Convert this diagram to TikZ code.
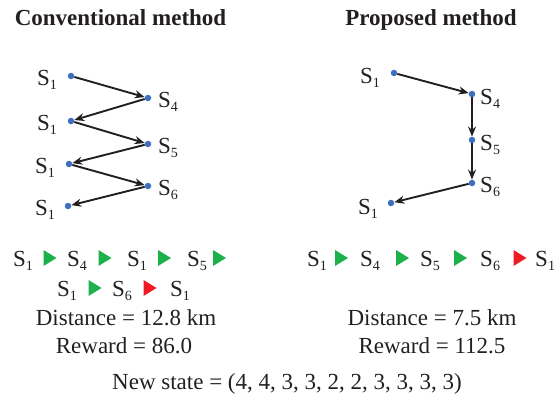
\documentclass[tikz,border=0pt]{standalone}
\usepackage{fontspec}
\setmainfont{Liberation Serif}
\usetikzlibrary{arrows.meta,calc}
\definecolor{txt}{HTML}{231F20}
\definecolor{dotblue}{HTML}{3D6EBF}
\definecolor{tgreen}{HTML}{1DB14B}
\definecolor{tred}{HTML}{ED1C24}
\newcommand\Sx[1]{S\raisebox{-4.5pt}{\fontsize{14}{14}\selectfont #1}}
\begin{document}
\begin{tikzpicture}[x=1pt,y=-1pt,font=\rmfamily\fontsize{23}{27}\selectfont,text=txt,
  dot/.style={circle,fill=dotblue,inner sep=0pt,minimum size=6.5pt},
  lbl/.style={inner sep=0pt},
  arr/.style={draw=txt,line width=1.9pt,-{Stealth[length=10pt,width=8pt]}},
  gtri/.pic={\fill[tgreen] (-6.5,-8) -- (6.5,0) -- (-6.5,8) -- cycle;},
  rtri/.pic={\fill[tred] (-6.5,-8) -- (6.5,0) -- (-6.5,8) -- cycle;}]
\useasboundingbox (0,0) rectangle (556,399);
% titles
\node[lbl,anchor=base,font=\rmfamily\fontsize{23}{27}\selectfont\bfseries] (t1) at (120.5,25) {Conventional method};
\node[lbl,anchor=base,font=\rmfamily\fontsize{23}{27}\selectfont\bfseries] (t2) at (431,25) {Proposed method};
% left diagram
\node[dot] (a1) at (71,76) {};
\node[dot] (a2) at (148,98) {};
\node[dot] (a3) at (71,121) {};
\node[dot] (a4) at (148,144) {};
\node[dot] (a5) at (69,164) {};
\node[dot] (a6) at (148,186) {};
\node[dot] (a7) at (68,206) {};
\node[lbl,anchor=base east] (la1) at ($(a1)+(-14,9)$) {\Sx{1}};
\node[lbl,anchor=base west] (la2) at ($(a2)+(10,9)$) {\Sx{4}};
\node[lbl,anchor=base east] (la3) at ($(a3)+(-14,9)$) {\Sx{1}};
\node[lbl,anchor=base west] (la4) at ($(a4)+(10,9)$) {\Sx{5}};
\node[lbl,anchor=base east] (la5) at ($(a5)+(-14,9)$) {\Sx{1}};
\node[lbl,anchor=base west] (la6) at ($(a6)+(10,9)$) {\Sx{6}};
\node[lbl,anchor=base east] (la7) at ($(a7)+(-13,9)$) {\Sx{1}};
\draw[arr] (a1) -- (a2);
\draw[arr] (a2) -- (a3);
\draw[arr] (a3) -- (a4);
\draw[arr] (a4) -- (a5);
\draw[arr] (a5) -- (a6);
\draw[arr] (a6) -- (a7);
% right diagram
\node[dot] (b1) at (394,73) {};
\node[dot] (b2) at (472,94) {};
\node[dot] (b3) at (472,140) {};
\node[dot] (b4) at (472,183) {};
\node[dot] (b5) at (391,203) {};
\node[lbl,anchor=base east] (lb1) at ($(b1)+(-14,10)$) {\Sx{1}};
\node[lbl,anchor=base west] (lb2) at ($(b2)+(8,10)$) {\Sx{4}};
\node[lbl,anchor=base west] (lb3) at ($(b3)+(8,10)$) {\Sx{5}};
\node[lbl,anchor=base west] (lb4) at ($(b4)+(8,9)$) {\Sx{6}};
\node[lbl,anchor=base east] (lb5) at ($(b5)+(-13,11)$) {\Sx{1}};
\draw[arr] (b1) -- (b2);
\draw[arr] (b2) -- (b3);
\draw[arr] (b3) -- (b4);
\draw[arr] (b4) -- (b5);
% left sequence
\node[lbl,anchor=base west] (s1) at (13,266) {\Sx{1}};
\pic at (50,258) {gtri};
\node[lbl,anchor=base west] (s2) at (67,266) {\Sx{4}};
\pic at (105,258) {gtri};
\node[lbl,anchor=base west] (s3) at (127,266) {\Sx{1}};
\pic at (164.5,258) {gtri};
\node[lbl,anchor=base west] (s4) at (187,266) {\Sx{5}};
\pic at (219.5,258) {gtri};
\node[lbl,anchor=base west] (s5) at (57,296) {\Sx{1}};
\pic at (95,288) {gtri};
\node[lbl,anchor=base west] (s6) at (112,296) {\Sx{6}};
\pic at (150,288) {rtri};
\node[lbl,anchor=base west] (s7) at (170,296) {\Sx{1}};
% right sequence
\node[lbl,anchor=base west] (r1) at (307,266) {\Sx{1}};
\pic at (341.5,258) {gtri};
\node[lbl,anchor=base west] (r2) at (360,266) {\Sx{4}};
\pic at (402.5,258) {gtri};
\node[lbl,anchor=base west] (r3) at (420,266) {\Sx{5}};
\pic at (460.5,258) {gtri};
\node[lbl,anchor=base west] (r4) at (480,266) {\Sx{6}};
\pic at (520,258) {rtri};
\node[lbl,anchor=base west] (r5) at (535,266) {\Sx{1}};
% results
\node[lbl,anchor=base] (d1) at (126,325) {Distance = 12.8 km};
\node[lbl,anchor=base] (w1) at (124,353) {Reward = 86.0};
\node[lbl,anchor=base] (d2) at (432,325) {Distance = 7.5 km};
\node[lbl,anchor=base] (w2) at (432,353) {Reward = 112.5};
\node[lbl,anchor=base] (ns) at (287,389) {New state = (4, 4, 3, 3, 2, 2, 3, 3, 3, 3)};
\end{tikzpicture}
\end{document}
